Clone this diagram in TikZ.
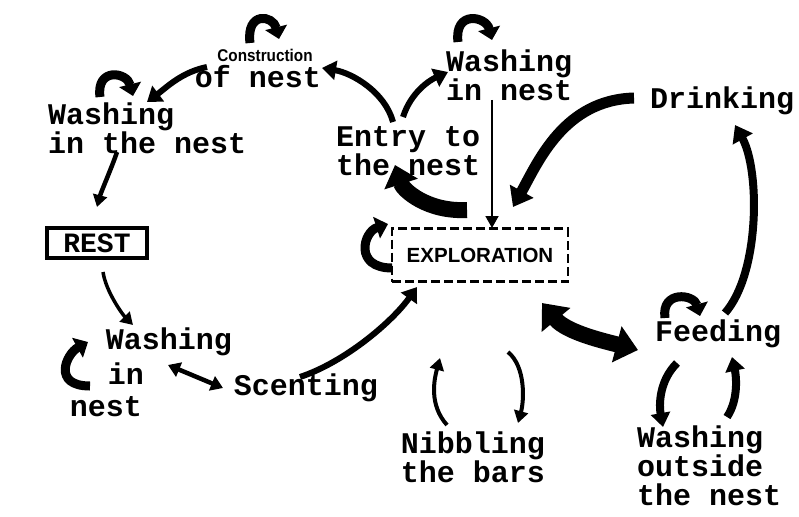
\documentclass[tikz,border=0pt]{standalone}
\usepackage{fontspec}
\usetikzlibrary{arrows.meta}
\newfontfamily\twfont{Liberation Mono}
\newfontfamily\sansfnt{Liberation Sans}
\begin{document}
\begin{tikzpicture}[x=1pt,y=-1pt,
  lab/.style={font=\twfont\bfseries\fontsize{30}{29}\selectfont, inner sep=0pt, align=left},
  arrM/.style={line width=6pt, -{Triangle[length=14pt,width=19pt]}},
  arrS/.style={line width=3.5pt, -{Triangle[length=12pt,width=14pt]}},
  arrB/.style={line width=16pt, -{Triangle[length=20pt,width=34pt]}},
  loopar/.style={line width=9pt, -{Triangle[length=12pt,width=22pt]}},
  thinar/.style={line width=1.8pt, -{Triangle[length=12pt,width=13pt]}}
]
\useasboundingbox (0,0) rectangle (799,516);

% nodes
\node[font=\sansfnt\bfseries\fontsize{17}{17}\selectfont, inner sep=0pt, xscale=0.9] (constr) at (265,55) {Construction};
\node[lab] (ofnest) at (258,77) {of nest};
\node[lab, anchor=west] (wash1) at (48,128) {Washing\\in the nest};
\node[draw, line width=3.5pt, minimum width=100pt, minimum height=30pt, inner sep=0pt,
      font=\twfont\bfseries\fontsize{28}{28}\selectfont] (rest) at (97,243) {REST};
\node[lab] (wash2a) at (169,342) {Washing};
\node[lab] (wash2b) at (126,374) {in};
\node[lab] (wash2c) at (106,407) {nest};
\node[lab] (scent) at (306,388) {Scenting};
\node[draw, line width=2.8pt, dash pattern=on 9pt off 4pt, minimum width=176pt, minimum height=53pt,
      inner sep=0pt, font=\sansfnt\bfseries\fontsize{20.5}{20.5}\selectfont] (explo) at (480,255) {EXPLORATION};
\node[lab, anchor=west] (entry) at (336,151) {Entry to\\the nest};
\node[lab, anchor=west] (wash3) at (446,75) {Washing\\in nest};
\node[lab] (drink) at (722,101) {Drinking};
\node[lab] (feed) at (718,334) {Feeding};
\node[lab, align=center] (nib) at (473,457) {Nibbling\\the bars};
\node[lab, anchor=west] (washout) at (637,466) {Washing\\outside\\the nest};

% connectors
\draw[arrM] ([shift={(-51,-10)}]ofnest.center) .. controls +(-25,5) and +(20,-15) .. ([shift={(99,-26)}]wash1.west);
\draw[arrS, line width=4.5pt] ([shift={(69,24)}]wash1.west) .. controls +(-5,15) and +(4,-15) .. ([shift={(0,-36)}]rest.center);
\draw[arrS] ([shift={(6,29)}]rest.center) .. controls +(3,20) and +(-10,-10) .. ([shift={(-36,-17)}]wash2a.center);
\draw[line width=4.5pt, {Triangle[length=12pt,width=15pt]}-{Triangle[length=12pt,width=15pt]}] ([shift={(-1,23)}]wash2a.center) -- ([shift={(-83,0)}]scent.center);
\draw[arrM] ([shift={(-6,-11)}]scent.center) .. controls +(45,-15) and +(-25,35) .. ([shift={(-63,32)}]explo.center);
\draw[line width=16pt, {Triangle[length=22pt,width=36pt]}-{Triangle[length=22pt,width=36pt]}] ([shift={(62,48)}]explo.center) .. controls +(25,30) and +(-30,-8) .. ([shift={(-80,16)}]feed.center);
\draw[arrB] ([shift={(-13,-45)}]explo.center) .. controls +(-40,2) and +(8,25) .. ([shift={(59,14)}]entry.west);
\draw[arrM] ([shift={(57,-29)}]entry.west) .. controls +(-8,-30) and +(30,5) .. ([shift={(64,-9)}]ofnest.center);
\draw[arrM] ([shift={(67,-34)}]entry.west) .. controls +(8,-25) and +(-18,8) .. ([shift={(2,-3)}]wash3.west);
\draw[thinar] ([shift={(46,25)}]wash3.west) -- ([shift={(12,-27)}]explo.center);
\draw[line width=11pt, -{Triangle[length=18pt,width=26pt]}] ([shift={(-88,-3)}]drink.center) .. controls +(-70,2) and +(25,-45) .. ([shift={(33,-48)}]explo.center);
\draw[line width=8pt, -{Triangle[length=16pt,width=22pt]}] ([shift={(7,-21)}]feed.center) .. controls +(35,-40) and +(25,45) .. ([shift={(13,24)}]drink.center);
\draw[arrS, line width=4pt] ([shift={(-26,-32)}]nib.center) .. controls +(-18,-20) and +(-6,22) .. ([shift={(-33,-99)}]nib.center);
\draw[arrS, line width=4pt] ([shift={(35,-105)}]nib.center) .. controls +(18,15) and +(6,-22) .. ([shift={(45,-34)}]nib.center);
\draw[arrM, line width=8pt] ([shift={(-41,29)}]feed.center) .. controls +(-18,18) and +(-4,-22) .. ([shift={(26,-39)}]washout.west);
\draw[arrM, line width=8pt] ([shift={(90,-49)}]washout.west) .. controls +(12,-18) and +(4,18) .. ([shift={(14,23)}]feed.center);

% self loops
\draw[loopar] ([shift={(-15,-12)}]constr.center) .. controls +(-4,-32) and +(-6,-24) .. ([shift={(14,-16)}]constr.center);
\draw[loopar] ([shift={(52,-31)}]wash1.west) .. controls +(-4,-30) and +(-6,-24) .. ([shift={(85,-32)}]wash1.west);
\draw[loopar] ([shift={(12,-33)}]wash3.west) .. controls +(-4,-32) and +(-6,-24) .. ([shift={(46,-35)}]wash3.west);
\draw[loopar] ([shift={(-53,-16)}]feed.center) .. controls +(-4,-28) and +(-6,-22) .. ([shift={(-18,-18)}]feed.center);
\draw[loopar] ([shift={(-36,12)}]wash2b.center) .. controls +(-38,0) and +(-22,12) .. ([shift={(-38,-32)}]wash2b.center);
\draw[loopar] ([shift={(-88,13)}]explo.center) .. controls +(-38,0) and +(-25,8) .. ([shift={(-92,-31)}]explo.center);
\end{tikzpicture}
\end{document}
